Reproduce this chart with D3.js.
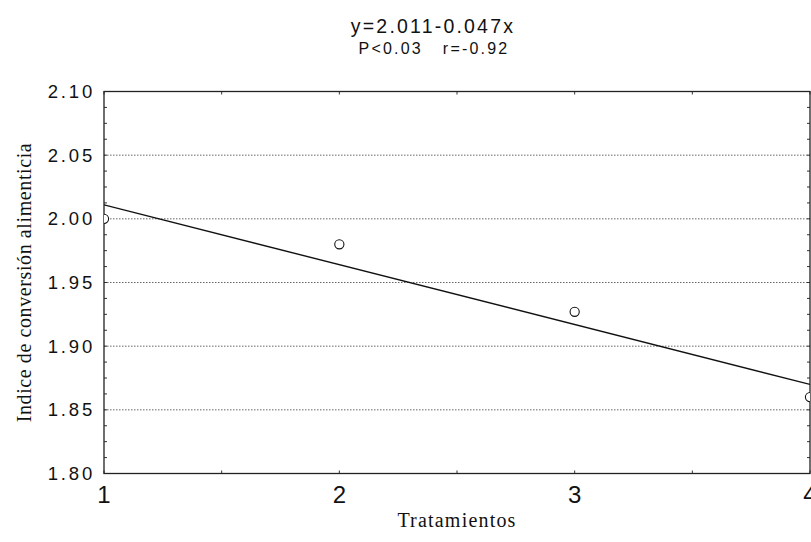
<!DOCTYPE html>
<html>
<head>
<meta charset="utf-8">
<script src="https://cdn.jsdelivr.net/npm/d3@7"></script>
<style>
  body { margin: 0; background: #fff; }
  svg { display: block; }
</style>
</head>
<body>
<svg id="chart" width="811" height="542"></svg>
<script>
// Treatment data
const treatments = [1, 2, 3, 4];
const conversion = [2.00, 1.98, 1.927, 1.86];
const yTicks = [1.80, 1.85, 1.90, 1.95, 2.00, 2.05, 2.10];
const xTicks = [1, 2, 3, 4];
const fitIntercept = 2.011;
const fitSlope = -0.047;

const svg = d3.select('#chart');

const plot = { left: 104, right: 810, top: 91.5, bottom: 473.5 };

const x = d3.scaleLinear().domain([1, 4]).range([plot.left, plot.right]);
const y = d3.scaleLinear().domain([1.80, 2.10]).range([plot.bottom, plot.top]);

svg.append('clipPath').attr('id', 'clip')
    .append('rect')
    .attr('x', plot.left).attr('y', plot.top)
    .attr('width', plot.right - plot.left).attr('height', plot.bottom - plot.top);

// dotted gridlines
svg.append('g')
    .selectAll('line')
    .data(yTicks.slice(1, -1))
    .join('line')
    .attr('x1', plot.left).attr('x2', plot.right)
    .attr('y1', d => y(d)).attr('y2', d => y(d))
    .attr('stroke', '#666')
    .attr('stroke-width', 1)
    .attr('stroke-dasharray', '1.5,1.5');

// minor ticks inside the frame
const yMinor = d3.range(1.80, 2.1001, 0.0125);
svg.append('g').selectAll('line').data(yMinor).join('line')
    .attr('x1', plot.left).attr('x2', plot.left + 3)
    .attr('y1', d => y(d)).attr('y2', d => y(d))
    .attr('stroke', '#333');
svg.append('g').selectAll('line').data(yMinor).join('line')
    .attr('x1', plot.right).attr('x2', plot.right - 3)
    .attr('y1', d => y(d)).attr('y2', d => y(d))
    .attr('stroke', '#333');
const xMinor = d3.range(1, 4.001, 0.5);
svg.append('g').selectAll('line').data(xMinor).join('line')
    .attr('x1', d => x(d)).attr('x2', d => x(d))
    .attr('y1', plot.bottom).attr('y2', plot.bottom - 3)
    .attr('stroke', '#333');
svg.append('g').selectAll('line').data(xMinor).join('line')
    .attr('x1', d => x(d)).attr('x2', d => x(d))
    .attr('y1', plot.top).attr('y2', plot.top + 3)
    .attr('stroke', '#333');

// frame
svg.append('rect')
    .attr('x', plot.left).attr('y', plot.top)
    .attr('width', plot.right - plot.left).attr('height', plot.bottom - plot.top)
    .attr('fill', 'none')
    .attr('stroke', '#222')
    .attr('stroke-width', 1.3);

// regression line
const fitX = d3.extent(treatments);
svg.append('line')
    .attr('clip-path', 'url(#clip)')
    .attr('x1', x(fitX[0])).attr('y1', y(fitIntercept + fitSlope * (fitX[0] - 1)))
    .attr('x2', x(fitX[1])).attr('y2', y(fitIntercept + fitSlope * (fitX[1] - 1)))
    .attr('stroke', '#111')
    .attr('stroke-width', 1.4);

// points
svg.append('g')
    .attr('clip-path', 'url(#clip)')
    .selectAll('circle')
    .data(treatments)
    .join('circle')
    .attr('cx', d => x(d))
    .attr('cy', (d, i) => y(conversion[i]))
    .attr('r', 4.6)
    .attr('fill', '#fff')
    .attr('stroke', '#111')
    .attr('stroke-width', 1.1);

// y tick labels
svg.append('g').selectAll('text').data(yTicks).join('text')
    .attr('x', 95)
    .attr('y', d => y(d) + 6.5)
    .attr('text-anchor', 'end')
    .attr('font-family', 'Liberation Sans, Arial, sans-serif')
    .attr('font-size', 18.5)
    .attr('letter-spacing', 2.8)
    .attr('fill', '#111')
    .text(d => d.toFixed(2));

// x tick labels (last one runs off the page edge, as in the source)
svg.append('g').selectAll('text').data(xTicks).join('text')
    .attr('x', d => x(d))
    .attr('y', 503)
    .attr('text-anchor', 'middle')
    .attr('font-family', 'Liberation Sans, Arial, sans-serif')
    .attr('font-size', 24)
    .attr('fill', '#111')
    .text(d => d);

// titles
svg.append('text')
    .attr('x', 433).attr('y', 33)
    .attr('text-anchor', 'middle')
    .attr('font-family', 'Liberation Sans, Arial, sans-serif')
    .attr('font-size', 19.5)
    .attr('letter-spacing', 2.2)
    .attr('fill', '#111')
    .text('y=2.011-0.047x');
svg.append('text')
    .attr('x', 434).attr('y', 54)
    .attr('text-anchor', 'middle')
    .attr('font-family', 'Liberation Sans, Arial, sans-serif')
    .attr('font-size', 16)
    .attr('letter-spacing', 2.2)
    .attr('fill', '#111')
    .attr('xml:space', 'preserve')
    .text('P<0.03   r=-0.92');

// axis titles
svg.append('text')
    .attr('x', 457).attr('y', 527)
    .attr('text-anchor', 'middle')
    .attr('font-family', 'Liberation Serif, Times New Roman, serif')
    .attr('font-size', 20)
    .attr('letter-spacing', 1.2)
    .attr('fill', '#111')
    .text('Tratamientos');
svg.append('text')
    .attr('transform', `translate(31,${(plot.top + plot.bottom) / 2}) rotate(-90)`)
    .attr('text-anchor', 'middle')
    .attr('font-family', 'Liberation Serif, Times New Roman, serif')
    .attr('font-size', 20)
    .attr('letter-spacing', 0.6)
    .attr('fill', '#111')
    .text('Indice de conversión alimenticia');
</script>
</body>
</html>
